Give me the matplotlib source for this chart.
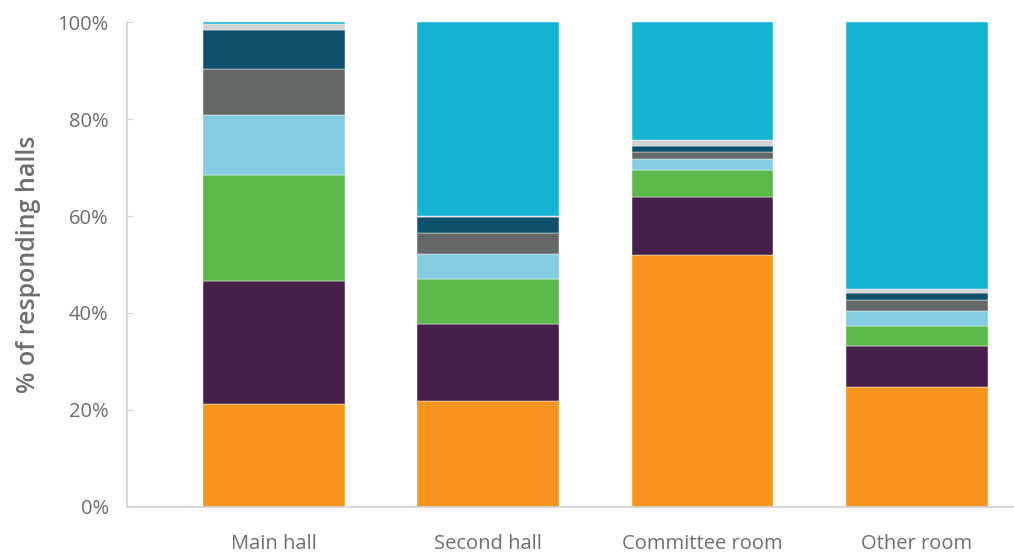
import numpy as np
import matplotlib.pyplot as plt

# Data (percent of responding halls), bottom to top
rooms = ['Main hall', 'Second hall', 'Committee room', 'Other room']
seg_orange = [21.1, 21.9, 51.9, 24.8]
seg_purple = [25.4, 15.9, 12.1, 8.3]
seg_green = [21.9, 9.2, 5.6, 4.3]
seg_lightblue = [12.4, 5.2, 2.1, 3.1]
seg_gray = [9.6, 4.4, 1.6, 2.1]
seg_navy = [8.0, 3.2, 1.2, 1.6]
seg_lightgray = [1.3, 0.3, 1.3, 0.7]
seg_cyan = [0.3, 39.9, 24.2, 55.1]

series = [seg_orange, seg_purple, seg_green, seg_lightblue,
          seg_gray, seg_navy, seg_lightgray, seg_cyan]
colors = ['#F7941D', '#46204B', '#5AB94A', '#84CCE2',
          '#646968', '#10506F', '#D0D2D3', '#13B3D2']

plt.rcParams['font.family'] = ['Open Sans', 'DejaVu Sans']
text_color = '#6D6E71'

fig = plt.figure(figsize=(10.14, 5.53), dpi=100)
ax = fig.add_axes([0.125, 0.0837, 0.875, 0.876])

x = np.arange(len(rooms))
bottom = np.zeros(len(rooms))
for vals, c in zip(series, colors):
    ax.bar(x, vals, bottom=bottom, width=0.662, color=c,
           edgecolor='#FFFFFF', linewidth=0.3)
    bottom += np.array(vals)

ax.set_xlim(-0.686, 3.453)
ax.set_ylim(0, 100)
ax.set_yticks([0, 20, 40, 60, 80, 100])
ax.set_yticklabels(['0%', '20%', '40%', '60%', '80%', '100%'])
ax.set_xticks(x)
ax.set_xticklabels(rooms)

for side in ['top', 'right']:
    ax.spines[side].set_visible(False)
for side in ['left', 'bottom']:
    ax.spines[side].set_color('#D0D2D3')
    ax.spines[side].set_linewidth(1.2)

ax.tick_params(axis='y', direction='in', length=4, color='#D0D2D3',
               labelsize=14.5, labelcolor=text_color, pad=13)
ax.tick_params(axis='x', length=0, labelsize=14.5, labelcolor=text_color, pad=20)

ax.set_ylabel('% of responding halls', fontsize=18, fontweight='semibold',
              color=text_color, labelpad=12)

plt.savefig('out.png', dpi=100)
